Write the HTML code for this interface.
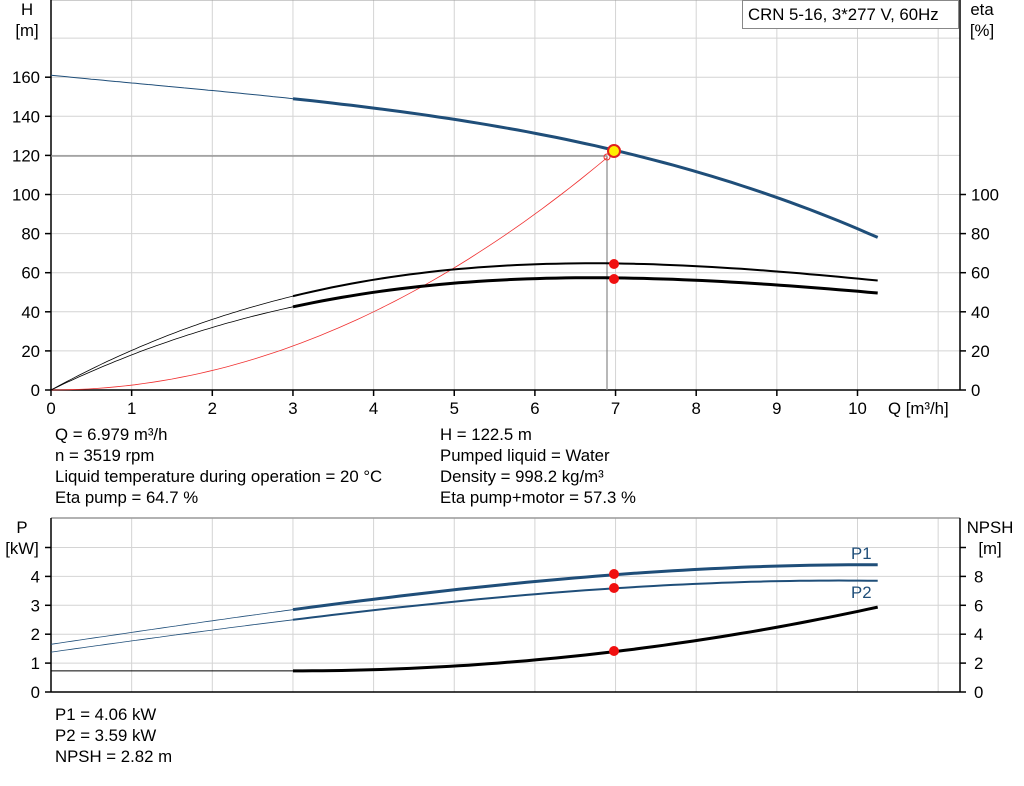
<!DOCTYPE html><html><head><meta charset="utf-8"><style>
body{margin:0;background:#fff;font-family:"Liberation Sans",sans-serif}
svg text{font-family:"Liberation Sans",sans-serif;font-size:16.8px;fill:#000}
</style></head><body>
<svg id="s" width="1024" height="781" xmlns="http://www.w3.org/2000/svg">
<g id="g"></g>
<text x="55" y="440">Q = 6.979 m³/h</text>
<text x="55" y="461">n = 3519 rpm</text>
<text x="55" y="482">Liquid temperature during operation = 20 °C</text>
<text x="55" y="503">Eta pump = 64.7 %</text>
<text x="440" y="440">H = 122.5 m</text>
<text x="440" y="461">Pumped liquid = Water</text>
<text x="440" y="482">Density = 998.2 kg/m³</text>
<text x="440" y="503">Eta pump+motor = 57.3 %</text>
<text x="55" y="720">P1 = 4.06 kW</text>
<text x="55" y="741">P2 = 3.59 kW</text>
<text x="55" y="762">NPSH = 2.82 m</text>
<text x="27" y="15" text-anchor="middle">H</text>
<text x="27" y="36" text-anchor="middle">[m]</text>
<text x="982" y="15" text-anchor="middle">eta</text>
<text x="982" y="36" text-anchor="middle">[%]</text>
<text x="22" y="533" text-anchor="middle">P</text>
<text x="22" y="554" text-anchor="middle">[kW]</text>
<text x="990" y="533" text-anchor="middle">NPSH</text>
<text x="990" y="554" text-anchor="middle">[m]</text>
<text x="888" y="414">Q [m³/h]</text>
<rect x="742.5" y="0.5" width="216" height="28" fill="#fff" stroke="#888"/>
<text x="748" y="20">CRN 5-16, 3*277 V, 60Hz</text>
<text x="851" y="559" style="fill:#1f4e79">P1</text>
<text x="851" y="598" style="fill:#1f4e79">P2</text>
</svg>
<script>
var g=document.getElementById('g'),h='';
function X(q){return 51+q*80.65}
function L(x1,y1,x2,y2,c,w){h+='<line x1="'+x1+'" y1="'+y1+'" x2="'+x2+'" y2="'+y2+'" stroke="'+c+'" stroke-width="'+w+'"/>'}
function T(x,y,t,a){h+='<text x="'+x+'" y="'+y+'" text-anchor="'+(a||'middle')+'">'+t+'</text>'}
function P(f,a,b,Y,c,w){var s='';for(var i=0;i<=60;i++){var q=a+(b-a)*i/60;s+=(i?'L':'M')+X(q).toFixed(1)+' '+Y(f(q)).toFixed(1)}h+='<path d="'+s+'" fill="none" stroke="'+c+'" stroke-width="'+w+'"/>'}
var Yt=function(v){return 390-v*1.955};
for(var i=1;i<=11;i++)L(X(i),0,X(i),390,'#d4d4d4',1);
for(var v=20;v<=200;v+=20)L(51,Yt(v),960,Yt(v),'#d4d4d4',1);
L(51,0,960,0,'#999',1);
L(51,0,51,390,'#000',1.5);L(960,0,960,390,'#000',1.5);L(51,390,960,390,'#000',1.5);
for(var v=0;v<=160;v+=20){L(45,Yt(v),51,Yt(v),'#000',1.5);T(40,Yt(v)+6,v,'end')}
for(var v=0;v<=100;v+=20){L(960,Yt(v),966,Yt(v),'#000',1.5);T(971,Yt(v)+6,v,'start')}
for(var i=0;i<=10;i++){L(X(i),390,X(i),396,'#000',1.5);T(X(i),414,i)}
L(51,156,607,156,'#888',1.2);L(607,156,607,390,'#888',1.2);
var H=function(q){return 161-4.10*q+0.21*q*q-0.0585*q*q*q};
var E=function(q){return 22.59*q-2.413*q*q+0.0724*q*q*q};
var E2=function(q){return 0.886*E(q)};
var R=function(q){return 2.5*q*q};
P(R,0,6.9,Yt,'#f03030',0.8);
P(H,0,3,Yt,'#1f4e79',1);P(H,3,10.25,Yt,'#1f4e79',3);
P(E,0,3,Yt,'#000',0.8);P(E,3,10.25,Yt,'#000',2);
P(E2,0,3,Yt,'#000',0.8);P(E2,3,10.25,Yt,'#000',3);
h+='<circle cx="607" cy="157" r="3" fill="none" stroke="#f03030"/>';
h+='<circle cx="614" cy="151" r="6" fill="#ffee00" stroke="#e02020" stroke-width="2"/>';
h+='<circle cx="614" cy="264" r="5" fill="#f01010"/><circle cx="614" cy="279" r="5" fill="#f01010"/>';
var Yp=function(v){return 692-v*28.9};
var Yn=function(v){return 692-v*14.45};
for(var i=1;i<=11;i++)L(X(i),518,X(i),692,'#d4d4d4',1);
for(var v=1;v<=5;v++)L(51,Yp(v),960,Yp(v),'#d4d4d4',1);
L(51,518,960,518,'#999',1.5);
L(51,518,51,692,'#000',1.5);L(960,518,960,692,'#000',1.5);L(51,692,960,692,'#000',1.5);
for(var v=0;v<=5;v++){L(45,Yp(v),51,Yp(v),'#000',1.5);if(v<5)T(40,Yp(v)+6,v,'end')}
for(var v=0;v<=10;v+=2){L(960,Yn(v),966,Yn(v),'#000',1.5);if(v<10)T(974,Yn(v)+6,v,'start')}
var P1=function(q){return 1.65+0.4145*q-0.00093*q*q-0.0013*q*q*q};
var P2=function(q){return 1.38+0.3915*q-0.0025*q*q-0.00119*q*q*q};
var N=function(q){return q<3?1.46:1.46+0.084*(q-3)*(q-3)};
P(P1,0,3,Yp,'#1f4e79',0.8);P(P1,3,10.25,Yp,'#1f4e79',3);
P(P2,0,3,Yp,'#1f4e79',0.8);P(P2,3,10.25,Yp,'#1f4e79',2);
P(N,0,3,Yn,'#000',1);P(N,3,10.25,Yn,'#000',3);
h+='<circle cx="614" cy="574" r="5" fill="#f01010"/><circle cx="614" cy="588" r="5" fill="#f01010"/><circle cx="614" cy="651" r="5" fill="#f01010"/>';
g.innerHTML=h;
</script>
</body></html>
